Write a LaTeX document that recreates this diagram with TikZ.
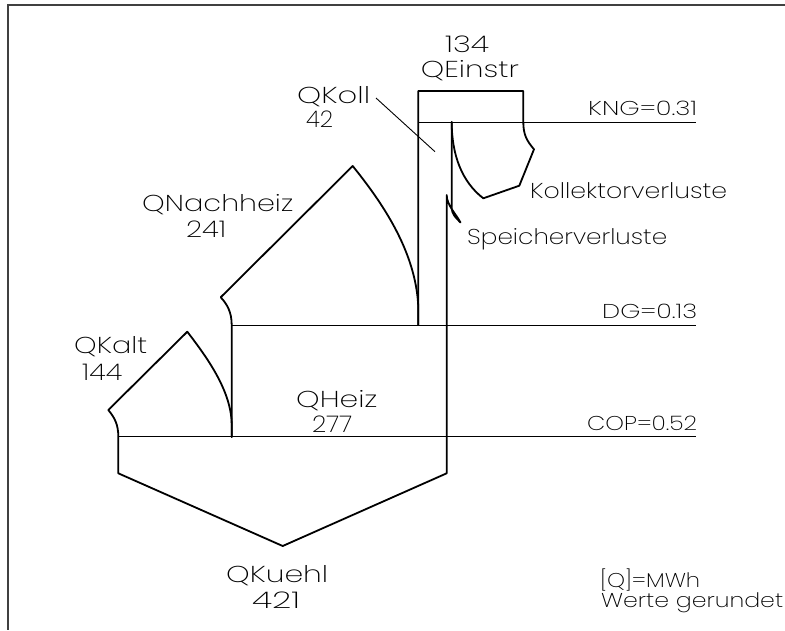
\documentclass[tikz,border=0pt]{standalone}
\usepackage{fontspec}
\setmainfont{Poppins}[UprightFont={* ExtraLight}]
\usepackage{graphicx}
\tikzset{
  outl/.style={line width=1.8pt, line join=round, line cap=round},
  refl/.style={line width=0.9pt},
  lbl/.style={inner sep=0pt, anchor=base west},
}
\newcommand{\cadtxt}[3]{{\fontsize{#1pt}{#1pt}\selectfont\resizebox{#2pt}{\height}{#3}}}
\begin{document}
\begin{tikzpicture}[x=1pt,y=-1pt]
\useasboundingbox (0,0) rectangle (785,630);
% frame
\draw[line width=2pt, color=black!75] (785,5) -- (8,5) -- (8,630);
% reference lines
\draw[refl] (418.3,122) -- (696,122);
\draw[refl] (231.7,325) -- (696,325);
\draw[refl] (118.3,436.7) -- (696,436.7);
\draw[refl] (376,98) -- (435,151.7);
% column, top box, Kollektorverluste
\draw[outl] (418.3,325) -- (418.3,91) -- (523.3,91) -- (523.3,122)
  .. controls (523.3,135) and (527,141) .. (534,149.3) -- (519.3,185.7) -- (483.3,198.3)
  .. controls (462,182) and (451.7,155) .. (451.7,122);
% Speicherverluste hook, QKuehl, QKalt
\draw[outl] (451.7,122) -- (451.7,208)
  .. controls (451.7,214) and (456,218) .. (460.5,222.5)
  .. controls (456,214) and (446.7,205) .. (446.7,195)
  -- (446.7,473.3) -- (282.7,546) -- (118.3,473.3) -- (118.3,436.7)
  .. controls (118.3,425) and (115,418) .. (108.3,410) -- (187.3,331.7)
  .. controls (205,355) and (231.7,390) .. (231.7,425) -- (231.7,437);
% QNachheiz
\draw[outl] (231.7,437) -- (231.7,325)
  .. controls (231.7,312) and (227,304) .. (220.7,297.3) -- (352.7,166)
  .. controls (380,200) and (416,250) .. (418.3,307) -- (418.3,325);
% labels
\node[lbl] (n134)   at (445,52)    {\cadtxt{23}{44}{134}};
\node[lbl] (nEin)   at (420.7,77.3){\cadtxt{23}{98}{QEinstr}};
\node[lbl] (nKoll)  at (297,103)   {\cadtxt{23}{73}{QKoll}};
\node[lbl] (n42)    at (306,127)   {\cadtxt{23}{27}{42}};
\node[lbl] (nNach)  at (142,211)   {\cadtxt{23}{151}{QNachheiz}};
\node[lbl] (n241)   at (186,237)   {\cadtxt{23}{40}{241}};
\node[lbl] (nKalt)  at (74,353)    {\cadtxt{23}{73}{QKalt}};
\node[lbl] (n144)   at (82,380)    {\cadtxt{23}{40}{144}};
\node[lbl] (nHeiz)  at (296,407)   {\cadtxt{23}{81}{QHeiz}};
\node[lbl] (n277)   at (312,432)   {\cadtxt{23}{40}{277}};
\node[lbl] (nKuehl) at (226,582)   {\cadtxt{23}{102}{QKuehl}};
\node[lbl] (n421)   at (252,608)   {\cadtxt{23}{48}{421}};
\node[lbl] (nKV)    at (530,198)   {\cadtxt{21.5}{197}{Kollektorverluste}};
\node[lbl] (nSV)    at (467,244)   {\cadtxt{21.5}{200}{Speicherverluste}};
\node[lbl] (nKNG)   at (588,115)   {\cadtxt{20}{109}{KNG=0.31}};
\node[lbl] (nDG)    at (602,318)   {\cadtxt{20}{95}{DG=0.13}};
\node[lbl] (nCOP)   at (587,430)   {\cadtxt{20}{110}{COP=0.52}};
\node[lbl] (nQ)     at (600,587)   {\cadtxt{20}{100}{[Q]=MWh}};
\node[lbl] (nW)     at (601,607)   {\cadtxt{20}{182}{Werte gerundet}};
\end{tikzpicture}
\end{document}
